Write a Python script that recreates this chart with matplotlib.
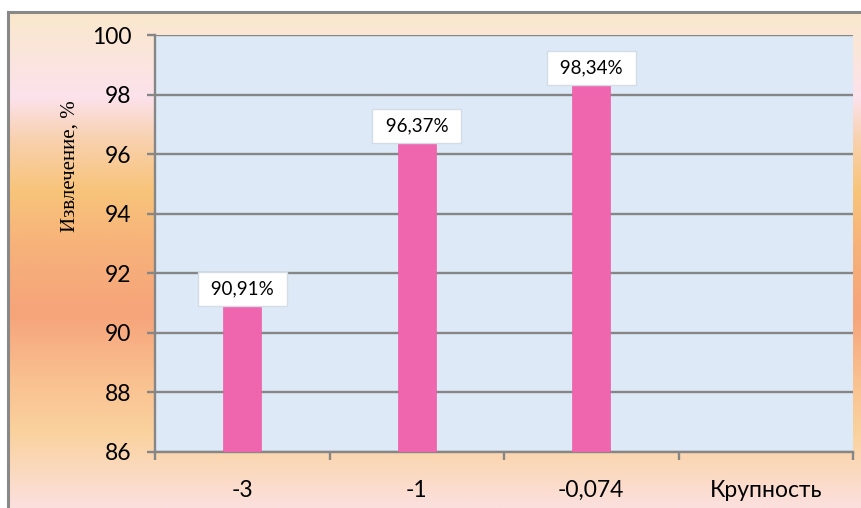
import numpy as np
import matplotlib
matplotlib.use('Agg')
import matplotlib.pyplot as plt
from matplotlib.colors import LinearSegmentedColormap
from matplotlib.lines import Line2D

# data
categories = ['-3', '-1', '-0,074', 'Крупность']
values = [90.91, 96.37, 98.34]
labels = ['90,91%', '96,37%', '98,34%']
y_ticks = [86, 88, 90, 92, 94, 96, 98, 100]

W, H = 862, 508
fig = plt.figure(figsize=(W / 100, H / 100), dpi=100)
fig.patch.set_facecolor('white')

# chart area gradient background (Excel style)
stops = [(0.0, '#fae8cc'), (0.17, '#fce2ec'), (0.26, '#f8d0ac'),
         (0.36, '#f8c47a'), (0.47, '#f7b27a'), (0.61, '#f6a47a'),
         (0.73, '#f9be8e'), (0.85, '#fad29e'), (1.0, '#fce0de')]
cmap = LinearSegmentedColormap.from_list('bg', stops)
bg = fig.add_axes([8 / W, 0, 1 - 8 / W, 1 - 12 / H], zorder=-5)
bg.imshow(np.linspace(0, 1, 256).reshape(-1, 1), aspect='auto', cmap=cmap,
          extent=[0, 1, 0, 1], origin='upper')
bg.set_axis_off()
fig.add_artist(Line2D([8 / W, 8 / W], [0, 1 - 12 / H], color='#888888', lw=2.2))
fig.add_artist(Line2D([8 / W, 1], [1 - 12 / H, 1 - 12 / H], color='#888888', lw=2.2))

ax = fig.add_axes([155 / W, 1 - 452 / H, (853 - 155) / W, (452 - 35) / H])
ax.set_facecolor('#dde9f6')

x = np.arange(len(values))
ax.bar(x, values, width=0.22, color='#ef66ae', edgecolor='#ec5ea8', lw=0.5, zorder=3)

for i, (v, t) in enumerate(zip(values, labels)):
    ax.annotate(' ' + t + ' ', xy=(i, v), xytext=(0, 6), textcoords='offset points',
                ha='center', va='bottom', fontsize=13.5, family='Lato', zorder=5,
                bbox=dict(boxstyle='square,pad=0.45', fc='white', ec='#d4dce8', lw=1))

ax.set_ylim(86, 100)
ax.set_xlim(-0.5, 3.5)
ax.set_yticks(y_ticks)
ax.set_yticklabels([str(t) for t in y_ticks], family='Lato', fontsize=16.5)
ax.yaxis.grid(True, color='#868686', lw=1.7, zorder=1)
ax.set_axisbelow(True)

ax.set_xticks(np.arange(-0.5, 4, 1))
ax.set_xticklabels([])
ax.set_xticks(np.arange(4), minor=True)
ax.set_xticklabels(categories, minor=True, family='Lato', fontsize=16.5)
ax.tick_params(axis='x', which='minor', length=0, pad=20)
ax.tick_params(axis='x', which='major', length=6, width=1.7, color='#868686', direction='out')
ax.tick_params(axis='y', length=6, width=1.7, color='#868686', pad=11)

for s in ['top', 'right']:
    ax.spines[s].set_visible(False)
for s in ['left', 'bottom']:
    ax.spines[s].set_color('#868686')
    ax.spines[s].set_linewidth(1.7)

fig.text(70 / W, 1 - 166 / H, 'Извлечение, %', rotation=90, ha='center', va='center',
         family='Liberation Serif', fontsize=15)

fig.savefig('out.png', dpi=100)
